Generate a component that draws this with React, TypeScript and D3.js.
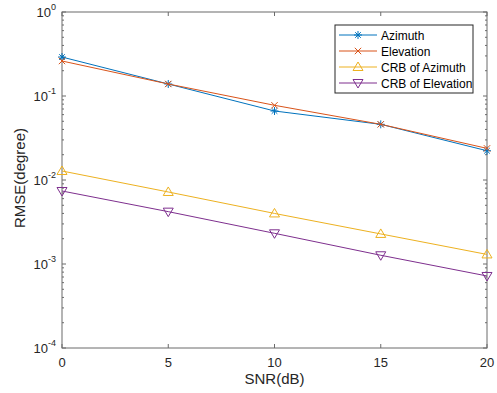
import * as d3 from "d3"

const snr = [0, 5, 10, 15, 20]
const azimuth = [0.291, 0.139, 0.0663, 0.046, 0.0223]
const elevation = [0.261, 0.139, 0.0775, 0.046, 0.0238]
const crbAzimuth = [0.0128, 0.0072, 0.004, 0.00228, 0.0013]
const crbElevation = [0.0074, 0.0042, 0.00232, 0.00127, 0.00072]
const yDecades = [0, -1, -2, -3, -4]

const series = [
  { name: "Azimuth", values: azimuth, color: "#0072BD", marker: "star" },
  { name: "Elevation", values: elevation, color: "#D95319", marker: "x" },
  { name: "CRB of Azimuth", values: crbAzimuth, color: "#EDB120", marker: "up" },
  { name: "CRB of Elevation", values: crbElevation, color: "#7E2F8E", marker: "down" },
]

const W = 497
const H = 393
const m = { left: 62, right: 487, top: 12, bottom: 348 }
const font = "'Liberation Sans', Arial, sans-serif"
const axisColor = "#6b6b6b"

function Marker({ type, x, y, color }: { type: string; x: number; y: number; color: string }) {
  const s = 4
  if (type === "star") {
    return (
      <path
        d={`M${x - s},${y}H${x + s}M${x},${y - s}V${y + s}M${x - s * 0.7},${y - s * 0.7}L${x + s * 0.7},${y + s * 0.7}M${x - s * 0.7},${y + s * 0.7}L${x + s * 0.7},${y - s * 0.7}`}
        stroke={color}
        strokeWidth={1}
        fill="none"
      />
    )
  }
  if (type === "x") {
    const k = s * 0.8
    return <path d={`M${x - k},${y - k}L${x + k},${y + k}M${x - k},${y + k}L${x + k},${y - k}`} stroke={color} fill="none" />
  }
  const t = 5
  if (type === "up") {
    return <path d={`M${x},${y - t}L${x + t},${y + t * 0.7}L${x - t},${y + t * 0.7}Z`} stroke={color} fill="none" />
  }
  return <path d={`M${x},${y + t}L${x + t},${y - t * 0.7}L${x - t},${y - t * 0.7}Z`} stroke={color} fill="none" />
}

export default function App() {
  const x = d3.scaleLinear().domain([0, 20]).range([m.left, m.right])
  const y = d3.scaleLog().domain([1e-4, 1]).range([m.bottom, m.top])
  const line = d3
    .line<number>()
    .x((_, i) => x(snr[i]))
    .y((d) => y(d))

  const minor: number[] = []
  for (let e = -4; e < 0; e++) for (let k = 2; k <= 9; k++) minor.push(k * Math.pow(10, e))

  const lx = 335
  const ly = 25
  const lw = 138
  const lh = 68

  return (
    <svg width={W} height={H} style={{ position: "absolute", left: 0, top: 0, background: "#fff" }} fontFamily={font}>
      <rect x={m.left} y={m.top} width={m.right - m.left} height={m.bottom - m.top} fill="#fff" />
      {/* x ticks */}
      {snr.map((v) => (
        <g key={"xt" + v}>
          <line x1={x(v)} x2={x(v)} y1={m.bottom} y2={m.bottom - 4} stroke={axisColor} />
          <line x1={x(v)} x2={x(v)} y1={m.top} y2={m.top + 4} stroke={axisColor} />
          <text x={x(v)} y={m.bottom + 19} textAnchor="middle" fontSize={13} fill="#262626">
            {v}
          </text>
        </g>
      ))}
      {/* y ticks */}
      {yDecades.map((e) => {
        const yy = y(Math.pow(10, e))
        return (
          <g key={"yt" + e}>
            <line x1={m.left} x2={m.left + 4} y1={yy} y2={yy} stroke={axisColor} />
            <line x1={m.right} x2={m.right - 4} y1={yy} y2={yy} stroke={axisColor} />
            <text x={m.left - 6} y={yy + 5} textAnchor="end" fontSize={13} fill="#262626">
              10<tspan dy={-7} fontSize={9}>{e}</tspan>
            </text>
          </g>
        )
      })}
      {minor.map((v, i) => (
        <g key={"mt" + i}>
          <line x1={m.left} x2={m.left + 2} y1={y(v)} y2={y(v)} stroke={axisColor} />
          <line x1={m.right} x2={m.right - 2} y1={y(v)} y2={y(v)} stroke={axisColor} />
        </g>
      ))}
      <rect x={m.left} y={m.top} width={m.right - m.left} height={m.bottom - m.top} fill="none" stroke={axisColor} />
      {/* series */}
      {series.map((s) => (
        <g key={s.name}>
          <path d={line(s.values) || ""} fill="none" stroke={s.color} strokeWidth={1} />
          {s.values.map((v, i) => (
            <Marker key={i} type={s.marker} x={x(snr[i])} y={y(v)} color={s.color} />
          ))}
        </g>
      ))}
      {/* axis labels */}
      <text x={(m.left + m.right) / 2} y={m.bottom + 36} textAnchor="middle" fontSize={15} fill="#262626">
        SNR(dB)
      </text>
      <text
        transform={`translate(25,178) rotate(-90)`}
        textAnchor="middle"
        fontSize={15}
        fill="#262626"
      >
        RMSE(degree)
      </text>
      {/* legend */}
      <rect x={lx} y={ly} width={lw} height={lh} fill="#fff" stroke="#262626" strokeWidth={1} />
      {series.map((s, i) => {
        const yy = ly + 10 + i * 16
        return (
          <g key={"lg" + s.name}>
            <line x1={lx + 4} x2={lx + 42} y1={yy} y2={yy} stroke={s.color} />
            <Marker type={s.marker} x={lx + 23} y={yy} color={s.color} />
            <text x={lx + 46} y={yy + 4.5} fontSize={12} fill="#000">
              {s.name}
            </text>
          </g>
        )
      })}
    </svg>
  )
}
